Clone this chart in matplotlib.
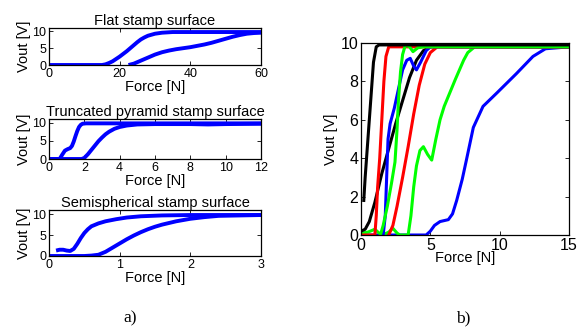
import matplotlib
matplotlib.use('Agg')
import matplotlib.pyplot as plt

plt.rcParams['font.family'] = ['Liberation Sans', 'DejaVu Sans']

# ====================== data ======================
# a) flat stamp surface
flat_f1 = [0, 15, 16, 17, 18, 19, 20, 21, 22, 23, 24, 25, 26, 27, 28, 30, 32, 35, 40, 60]
flat_v1 = [0, 0, 0.2, 0.6, 1.1, 1.8, 2.5, 3.3, 4.1, 5.0, 5.9, 6.8, 7.6, 8.2, 8.7, 9.3, 9.6, 9.8, 9.8, 9.8]
flat_f2 = [22.5, 24, 26, 28, 30, 32, 34, 36, 38, 40, 42, 44, 46, 48, 50, 52, 54, 56, 58, 60]
flat_v2 = [0, 0.4, 1.3, 2.2, 3.1, 3.8, 4.3, 4.7, 5.0, 5.3, 5.7, 6.1, 6.6, 7.2, 7.8, 8.4, 8.9, 9.3, 9.5, 9.6]

# a) truncated pyramid
pyr_f1 = [0, 0.6, 0.75, 0.9, 1.05, 1.2, 1.3, 1.4, 1.5, 1.6, 1.7, 1.8, 1.9, 2.1, 2.5, 12]
pyr_v1 = [0, 0, 1.2, 2.3, 2.7, 3.0, 3.6, 4.8, 6.3, 7.7, 8.8, 9.4, 9.7, 9.8, 9.8, 9.8]
pyr_f2 = [0, 1.85, 2.0, 2.2, 2.4, 2.6, 2.8, 3.0, 3.2, 3.4, 3.7, 4.0, 4.4, 5, 6, 8, 9, 10, 12]
pyr_v2 = [0, 0, 0.3, 1.3, 2.5, 3.7, 4.9, 5.9, 6.8, 7.5, 8.3, 8.8, 9.2, 9.5, 9.6, 9.6, 9.5, 9.6, 9.7]

# a) semispherical
sph_f1 = [0.1, 0.15, 0.2, 0.25, 0.3, 0.35, 0.4, 0.45, 0.5, 0.55, 0.6, 0.7, 0.8, 0.95, 1.1, 1.3, 1.6, 2, 3]
sph_v1 = [1.3, 1.5, 1.5, 1.3, 1.2, 1.7, 2.9, 4.3, 5.5, 6.4, 7.1, 7.8, 8.3, 8.8, 9.2, 9.5, 9.7, 9.8, 9.8]
sph_f2 = [0, 0.5, 0.6, 0.7, 0.8, 0.9, 1.0, 1.1, 1.2, 1.3, 1.4, 1.5, 1.6, 1.7, 1.8, 1.9, 2.0, 2.2, 2.4, 2.7, 3]
sph_v2 = [0, 0, 0.1, 0.3, 1.0, 2.0, 3.0, 4.0, 4.9, 5.7, 6.4, 7.0, 7.5, 7.9, 8.3, 8.6, 8.9, 9.3, 9.6, 9.7, 9.8]

# b) all sensors
blk1_f = [0.2, 0.3, 0.5, 0.7, 0.9, 1.1, 1.3, 15]
blk1_v = [1.8, 3.0, 5.0, 7.0, 9.0, 9.8, 9.9, 9.9]
blk2_f = [0, 0.3, 0.6, 1.0, 1.5, 2.0, 2.5, 3.0, 3.5, 4.0, 4.5, 5.0, 15]
blk2_v = [0.2, 0.3, 0.7, 1.7, 3.2, 4.5, 5.8, 7.0, 8.2, 9.1, 9.6, 9.8, 9.8]
red1_f = [0, 1.0, 1.1, 1.2, 1.35, 1.5, 1.65, 1.8, 2.0, 15]
red1_v = [0, 0, 1.0, 2.5, 4.0, 6.0, 8.0, 9.3, 9.8, 9.8]
red2_f = [2.0, 2.3, 2.6, 3.0, 3.4, 3.8, 4.2, 4.6, 5.0, 5.5, 15]
red2_v = [0, 0.5, 1.5, 3.0, 4.6, 6.3, 7.8, 8.9, 9.5, 9.8, 9.8]
blu1_f = [1.6, 1.75, 1.85, 1.95, 2.1, 2.4, 2.7, 3.0, 3.3, 3.55, 3.8, 4.0, 4.3, 4.7, 5.0, 15]
blu1_v = [0, 1.0, 3.0, 5.0, 5.8, 6.6, 7.6, 8.6, 9.1, 9.2, 8.8, 8.6, 9.0, 9.6, 9.8, 9.8]
blu2_f = [0, 4.7, 5.0, 5.3, 5.7, 6.3, 6.6, 6.9, 7.3, 7.6, 8.1, 8.8, 9.8, 11.2, 12.4, 13.3, 15]
blu2_v = [0, 0, 0.2, 0.5, 0.7, 0.8, 1.1, 1.8, 2.9, 3.9, 5.6, 6.7, 7.4, 8.4, 9.3, 9.7, 9.8]
grn1_f = [1.4, 1.6, 1.9, 2.2, 2.45, 2.6, 2.7, 2.85, 3.0, 3.2, 3.5, 3.75, 4.1, 4.5, 15]
grn1_v = [0, 0.5, 1.5, 2.7, 3.8, 5.5, 7.0, 8.5, 9.4, 9.9, 9.8, 9.55, 9.75, 9.8, 9.8]
grn2_f = [0, 0.5, 1.0, 1.3, 1.7, 2.0, 2.3, 2.6, 2.8, 3.4, 3.6, 3.8, 4.0, 4.25, 4.5, 4.8, 5.1,
          5.4, 5.7, 6.0, 6.4, 6.8, 7.1, 7.4, 7.7, 8.2, 15]
grn2_v = [0.1, 0.15, 0.3, 0.1, 0.05, 0.15, 0.35, 0.1, 0, 0, 1.0, 2.5, 3.6, 4.4, 4.6, 4.2, 3.9,
          5.0, 6.0, 6.7, 7.4, 8.1, 8.6, 9.1, 9.5, 9.8, 9.8]

# ====================== figure ======================
W, H = 579, 331
fig = plt.figure(figsize=(W / 100, H / 100), dpi=100)


def px_axes(x0, y0, x1, y1):
    # pixel box (top-left origin) -> figure fraction
    return fig.add_axes([x0 / W, 1 - y1 / H, (x1 - x0) / W, (y1 - y0) / H])


def style(ax, fs):
    ax.tick_params(direction='in', top=True, right=True, length=3, width=0.6,
                   labelsize=fs, pad=2)
    for s in ax.spines.values():
        s.set_linewidth(0.9)


left_panels = [
    ('Flat stamp surface', (28, 65), [(flat_f1, flat_v1), (flat_f2, flat_v2)], 60, [0, 20, 40, 60]),
    ('Truncated pyramid stamp surface', (119, 159), [(pyr_f1, pyr_v1), (pyr_f2, pyr_v2)], 12,
     [0, 2, 4, 6, 8, 10, 12]),
    ('Semispherical stamp surface', (210, 256), [(sph_f1, sph_v1), (sph_f2, sph_v2)], 3, [0, 1, 2, 3]),
]

for title, (ya, yb), curves, xmax, xt in left_panels:
    ax = px_axes(49, ya, 261, yb)
    for f, v in curves:
        ax.plot(f, v, color='#0000ff', lw=2.8, solid_capstyle='butt')
    ax.set_xlim(0, xmax)
    ax.set_ylim(0, 11)
    ax.set_xticks(xt)
    ax.set_yticks([0, 5, 10])
    style(ax, 9)
    ax.set_title(title, fontsize=10.5, pad=2)
    ax.set_xlabel('Force [N]', fontsize=10.5, labelpad=0)
    ax.set_ylabel('Vout [V]', fontsize=10.5, labelpad=1)

# right panel
axr = px_axes(361, 43, 569, 235)
right_curves = [
    (blu2_f, blu2_v, '#0000ff'),
    (grn2_f, grn2_v, '#00ff00'),
    (red2_f, red2_v, '#ff0000'),
    (blk2_f, blk2_v, 'k'),
    (blu1_f, blu1_v, '#0000ff'),
    (red1_f, red1_v, '#ff0000'),
    (grn1_f, grn1_v, '#00ff00'),
    (blk1_f, blk1_v, 'k'),
]
for f, v, c in right_curves:
    axr.plot(f, v, color=c, lw=2.2)
axr.set_xlim(0, 15)
axr.set_ylim(0, 10)
axr.set_xticks([0, 5, 10, 15])
axr.set_yticks([0, 2, 4, 6, 8, 10])
style(axr, 11.5)
axr.set_xlabel('Force [N]', fontsize=10.5, labelpad=-1)
axr.set_ylabel('Vout [V]', fontsize=10.5, labelpad=2)

fig.text(130 / W, 1 - 318 / H, 'a)', family='Liberation Serif', fontsize=12.5, ha='center', va='center')
fig.text(463 / W, 1 - 318 / H, 'b)', family='Liberation Serif', fontsize=12.5, ha='center', va='center')

fig.savefig('out.png', dpi=100)
